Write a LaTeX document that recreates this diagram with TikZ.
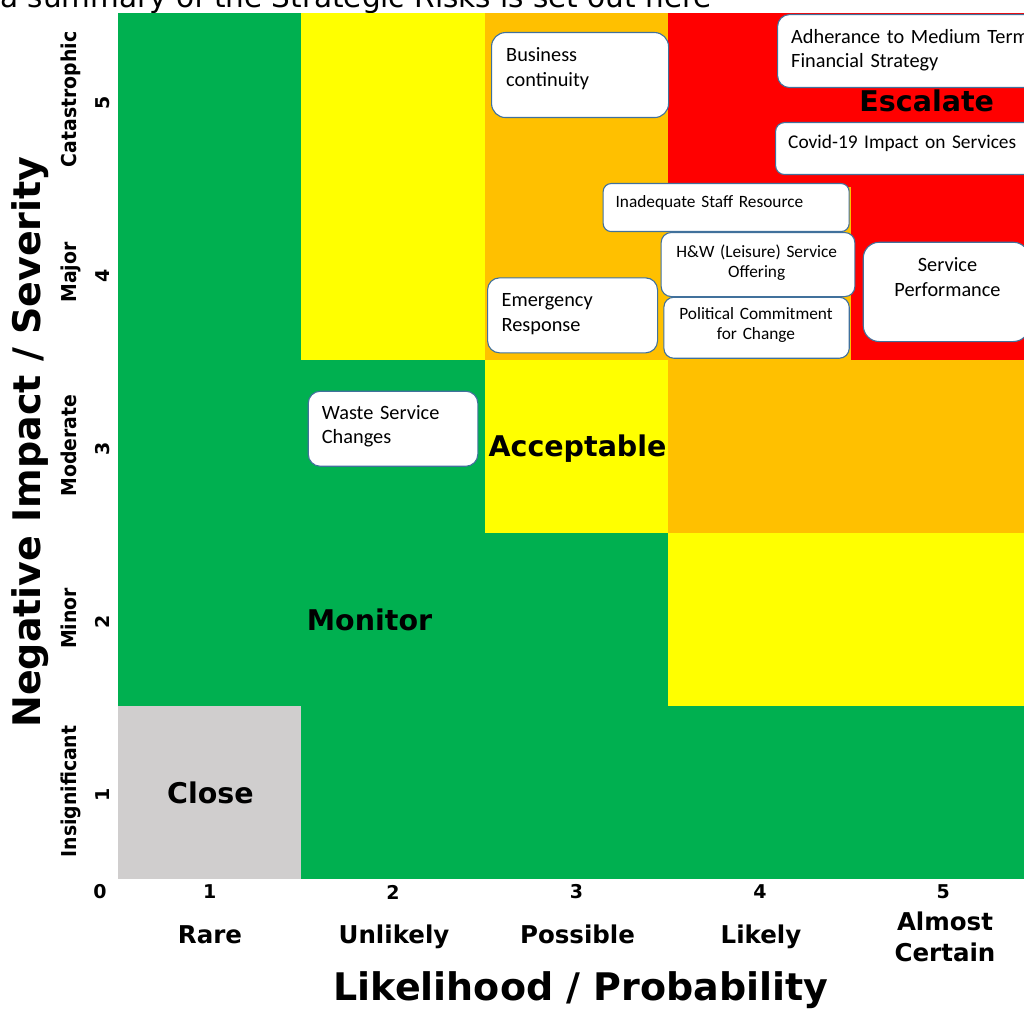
\documentclass[tikz,border=0pt]{standalone}
\usepackage{fontspec}
\setmainfont{DejaVu Sans}
\newfontfamily\boxfont{Carlito}
\newfontfamily\narrowfont[FakeStretch=0.92]{DejaVu Sans}
\definecolor{RiskGreen}{HTML}{00B050}
\definecolor{RiskYellow}{HTML}{FFFF00}
\definecolor{RiskAmber}{HTML}{FFC000}
\definecolor{RiskRed}{HTML}{FF0000}
\definecolor{RiskGrey}{HTML}{D0CECE}
\definecolor{BoxEdge}{HTML}{41719C}

\begin{document}
\begin{tikzpicture}[x=1pt, y=-1pt,
    cell/.style={line width=0.6pt},
    zone/.style={font=\fontsize{28.5}{34}\selectfont\bfseries, anchor=base, inner sep=0pt},
    tick/.style={font=\fontsize{19}{23}\selectfont\bfseries, inner sep=0pt},
    colname/.style={font=\fontsize{24.5}{31}\selectfont\bfseries, anchor=base, inner sep=0pt, align=center, text width=150pt},
    rowname/.style={font=\narrowfont\fontsize{20.5}{24}\selectfont\bfseries, rotate=90, anchor=base, inner sep=0pt},
    axistitle/.style={font=\fontsize{38}{44}\selectfont\bfseries, anchor=base, inner sep=0pt},
    riskbox/.style={draw=BoxEdge, fill=white, line width=1.1pt, rounded corners=#1, inner sep=0pt, anchor=north west},
    riskbox/.default=12pt,
    risktext/.style={font=\boxfont\fontsize{20.3}{24.5}\selectfont, inner sep=0pt, text width=250pt, align=left, anchor=base west},
    smalltext/.style={font=\boxfont\fontsize{17.3}{20}\selectfont, inner sep=0pt, text width=190pt, align=center, anchor=base}]

    \useasboundingbox (0,0) rectangle (1024,1008);
    \clip (0,0) rectangle (1024,1008);

    % Heading line, cut off at the top
    \node[anchor=base west, inner sep=0pt, font=\fontsize{29.5}{34}\selectfont] (intro) at (0,7.5)
        {a summary of the Strategic Risks is set out here};

    % Heat map cells, row 1 (bottom) to row 5 (top)
    \foreach \r/\cells in {1/{RiskGrey,RiskGreen,RiskGreen,RiskGreen,RiskGreen},
                           2/{RiskGreen,RiskGreen,RiskGreen,RiskYellow,RiskYellow},
                           3/{RiskGreen,RiskGreen,RiskYellow,RiskAmber,RiskAmber},
                           4/{RiskGreen,RiskYellow,RiskAmber,RiskAmber,RiskRed},
                           5/{RiskGreen,RiskYellow,RiskAmber,RiskRed,RiskRed}}
        \foreach \c [count=\k] in \cells
            \filldraw[\c, cell] ({118+183.4*(\k-1)}, {878-173*\r}) rectangle ++(183.4,173);

    % Likelihood axis
    \node[tick] (x0) at (100,892) {0};
    \foreach \k in {1,...,5}
        \node[tick] (x\k) at ({118+183.4*(\k-0.5)},892) {\k};
    \node[colname] (rare) at (210,943) {Rare};
    \node[colname] (unlikely) at (394,943) {Unlikely};
    \node[colname] (possible) at (577.5,943) {Possible};
    \node[colname] (likely) at (761,943) {Likely};
    \node[colname] (certain) at (945,930) {Almost\\Certain};
    \node[axistitle] (xtitle) at (581,1000) {Likelihood / Probability};

    % Impact axis
    \foreach \r/\name in {1/Insignificant, 2/Minor, 3/Moderate, 4/Major, 5/Catastrophic} {
        \node[rowname] (sev\r) at (76,{964.5-173*\r}) {\name};
        \node[tick, rotate=90] (y\r) at (102.5,{967.5-173*\r}) {\r};
    }
    \node[axistitle, rotate=90] (ytitle) at (40,442) {Negative Impact / Severity};

    % Zone labels
    \node[zone] (escalate) at (926.7,111.7) {Escalate};
    \node[zone] (acceptable) at (577.5,456.5) {Acceptable};
    \node[zone] (monitor) at (369.5,630.5) {Monitor};
    \node[zone] (close) at (210.5,803.5) {Close};

    % Risks
    \node[riskbox=14pt, minimum width=177pt, minimum height=85pt] (bc) at (491,32) {};
    \node[risktext] (bc-t) at (506,61.7) {Business\\continuity};

    \node[riskbox=12pt, minimum width=270pt, minimum height=73pt] (mtfs) at (777,14) {};
    \node[risktext] (mtfs-t) at (791,43.5) {Adherance to Medium Term\\Financial Strategy};

    \node[riskbox=9pt, minimum width=270pt, minimum height=52pt] (covid) at (775,122) {};
    \node[risktext, font=\boxfont\fontsize{19.4}{24}\selectfont] (covid-t) at (788,148.5) {Covid-19 Impact on Services};

    \node[riskbox=8pt, minimum width=246pt, minimum height=48pt] (staff) at (602.6,183) {};
    \node[smalltext, align=left, anchor=base west] (staff-t) at (615.4,207.5) {Inadequate Staff Resource};

    \node[riskbox=10pt, minimum width=193.7pt, minimum height=64pt] (hw) at (660.6,232) {};
    \node[smalltext] (hw-t) at (756.7,257.7) {H\&W (Leisure) Service\\Offering};

    \node[riskbox=10pt, minimum width=185.4pt, minimum height=61pt] (pol) at (663.3,296.7) {};
    \node[smalltext] (pol-t) at (756,319.5) {Political Commitment\\for Change};

    \node[riskbox=12pt, minimum width=170pt, minimum height=75pt] (emerg) at (487,277.3) {};
    \node[risktext] (emerg-t) at (501.5,306.5) {Emergency\\Response};

    \node[riskbox=16pt, minimum width=166pt, minimum height=99.3pt] (perf) at (862.7,241.7) {};
    \node[risktext, align=center, anchor=base, text width=160pt] (perf-t) at (947.5,271.7) {Service\\Performance};

    \node[riskbox=12pt, minimum width=169.6pt, minimum height=75pt] (waste) at (307.7,390.7) {};
    \node[risktext] (waste-t) at (321.7,419.3) {Waste Service\\Changes};

\end{tikzpicture}
\end{document}
